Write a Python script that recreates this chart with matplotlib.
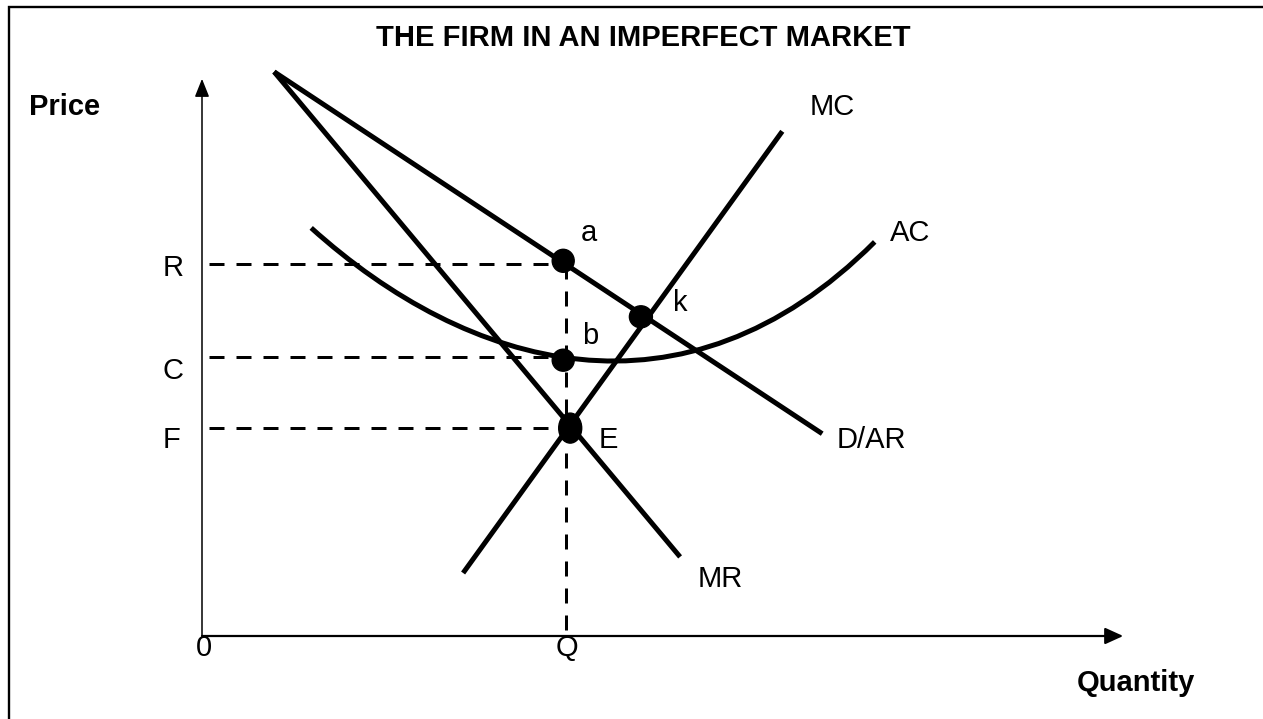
import matplotlib
matplotlib.use("Agg")
import matplotlib.pyplot as plt
from matplotlib.path import Path
from matplotlib.patches import PathPatch, Ellipse, Rectangle

plt.rcParams['font.family'] = ['Liberation Sans', 'DejaVu Sans']

# --- diagram data (quantity, price units) ---
dar_q = [1.03, 8.86]
dar_p = [8.06, 2.89]
mr_q = [1.03, 6.83]
mr_p = [8.06, 1.13]
mc_q = [3.73, 8.29]
mc_p = [0.90, 7.21]
# AC curve as one cubic bezier: start, two control points, end
ac_q = [1.56, 3.79, 6.88, 9.61]
ac_p = [5.83, 3.82, 2.90, 5.63]

Q = 5.2
R = 5.31
C = 3.98
F = 2.97

dot_names = ['a', 'b', 'k', 'E']
dot_q = [5.16, 5.16, 6.27, 5.26]
dot_p = [5.36, 3.94, 4.56, 2.97]

q_max = 13.16
p_max = 7.96

# figure: 1263x719 px, 70 px per unit, origin at px (202, 636)
SCALE = 70.0
fig = plt.figure(figsize=(12.63, 7.19), dpi=100)
ax = fig.add_axes([0, 0, 1, 1])
ax.set_xlim(-202 / SCALE, (1263 - 202) / SCALE)
ax.set_ylim(-(719 - 636) / SCALE, 636 / SCALE)
ax.axis('off')

fs = 21
lw = 3.6

# border (only top and left visible)
ax.add_patch(Rectangle((9 / 1263, -0.2), 2, 1.2 - 7 / 719, transform=ax.transAxes,
                       fill=False, lw=1.7, ec='black', clip_on=False))

# axes with arrows
ax.annotate('', xy=(0, p_max), xytext=(0, 0),
            arrowprops=dict(arrowstyle='-|>,head_length=0.55,head_width=0.22',
                            lw=1.1, color='black', shrinkA=0, shrinkB=0, mutation_scale=20))
ax.annotate('', xy=(q_max, 0), xytext=(0, 0),
            arrowprops=dict(arrowstyle='-|>,head_length=0.55,head_width=0.25',
                            lw=1.6, color='black', shrinkA=0, shrinkB=0, mutation_scale=20))

# dashed guides
dash = (0, (5, 4))
for p in [R, C, F]:
    ax.plot([0.1, Q], [p, p], color='black', lw=2.16, linestyle=dash, dash_capstyle='butt')
ax.plot([Q, Q], [R, 0.05], color='black', lw=2.16, linestyle=dash, dash_capstyle='butt')

# curves
for qs, ps in [(dar_q, dar_p), (mr_q, mr_p), (mc_q, mc_p)]:
    ax.plot(qs, ps, color='black', lw=lw, solid_capstyle='butt')

ac_path = Path(list(zip(ac_q, ac_p)), [Path.MOVETO, Path.CURVE4, Path.CURVE4, Path.CURVE4])
ax.add_patch(PathPatch(ac_path, fill=False, lw=lw, ec='black', capstyle='butt'))

# dots
dot_w = [22, 22, 23, 23]
dot_h = [23, 22, 22, 30]
for q, p, w, h in zip(dot_q, dot_p, dot_w, dot_h):
    ax.add_patch(Ellipse((q, p), w / SCALE, h / SCALE, color='black', zorder=5))

# labels
ax.text(6.3, 8.43, 'THE FIRM IN AN IMPERFECT MARKET', fontsize=fs, fontweight='bold',
        ha='center', va='baseline')
ax.text(-2.47, 7.44, 'Price', fontsize=fs, fontweight='bold', ha='left', va='baseline')
ax.text(12.5, -0.786, 'Quantity', fontsize=fs, fontweight='bold', ha='left', va='baseline')

ax.text(-0.414, 5.143, 'R', fontsize=fs, ha='center', va='baseline')
ax.text(-0.414, 3.671, 'C', fontsize=fs, ha='center', va='baseline')
ax.text(-0.43, 2.686, 'F', fontsize=fs, ha='center', va='baseline')
ax.text(0.03, -0.286, '0', fontsize=fs, ha='center', va='baseline')
ax.text(5.214, -0.286, 'Q', fontsize=fs, ha='center', va='baseline')

ax.text(5.414, 5.643, 'a', fontsize=fs, ha='left', va='baseline')
ax.text(5.429, 4.171, 'b', fontsize=fs, ha='left', va='baseline')
ax.text(6.729, 4.643, 'k', fontsize=fs, ha='left', va='baseline')
ax.text(5.671, 2.686, 'E', fontsize=fs, ha='left', va='baseline')

ax.text(7.086, 0.70, 'MR', fontsize=fs, ha='left', va='baseline')
ax.text(8.686, 7.443, 'MC', fontsize=fs, ha='left', va='baseline')
ax.text(9.829, 5.643, 'AC', fontsize=fs, ha='left', va='baseline')
ax.text(9.071, 2.686, 'D/AR', fontsize=fs, ha='left', va='baseline')

fig.savefig('out.png', dpi=100, facecolor='white')
